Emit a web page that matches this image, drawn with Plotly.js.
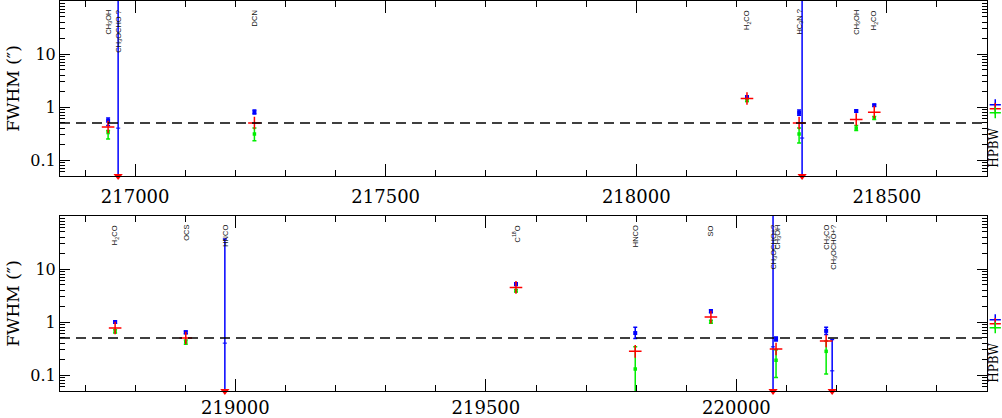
<!DOCTYPE html>
<html>
<head>
<meta charset="utf-8">
<script src="https://cdn.plot.ly/plotly-3.0.1.min.js"></script>
<style>html,body{margin:0;padding:0;background:#fff;}#chart{width:1002px;height:418px;}</style>
</head>
<body>
<div id="chart"></div>
<script>
// ---------- Top panel data ----------
const topFreq    = [216946, 217238, 218221, 218325, 218439, 218475];
const topBlue    = [0.55, 0.80, 1.54, 0.78, 0.84, 1.08];
const topBlueLo  = [0.45, 0.74, 1.46, 0.70, 0.80, 1.03];
const topBlueHi  = [0.62, 0.88, 1.62, 0.88, 0.88, 1.13];
const topRed     = [0.42, 0.50, 1.45, 0.50, 0.58, 0.80];
const topGreen   = [0.33, 0.31, 1.33, 0.31, 0.40, 0.62];
const topGreenLo = [0.25, 0.23, 1.27, 0.21, 0.36, 0.58];
const topGreenHi = [0.36, 0.40, 1.40, 0.40, 0.45, 0.66];
const topLimFreq   = [216966, 218331];
const topLimBlue   = [0.40, 0.26];
const topLimBlueLo = [0.001, 0.001];
const topLimBlueHi = [1000, 1000];
const topLimRed    = [0.05, 0.05];
const topLabelFreq = [216946, 216966, 217238, 218221, 218325, 218439, 218475];
const topLabels = ['CH<sub>3</sub>OH', 'CH<sub>3</sub>OCHO ?', 'DCN', 'H<sub>2</sub>CO',
                   'HC<sub>3</sub>N ?', 'CH<sub>3</sub>OH', 'H<sub>2</sub>CO'];

// ---------- Bottom panel data ----------
const botFreq    = [218760, 218901, 219560, 219798, 219949, 220079, 220179];
const botBlue    = [1.00, 0.64, 5.2, 0.62, 1.60, 0.48, 0.68];
const botBlueLo  = [0.95, 0.60, 4.9, 0.49, 1.50, 0.44, 0.58];
const botBlueHi  = [1.05, 0.68, 5.5, 0.80, 1.70, 0.52, 0.80];
const botRed     = [0.77, 0.50, 4.5, 0.28, 1.24, 0.31, 0.44];
const botGreen   = [0.66, 0.42, 3.9, 0.13, 1.00, 0.19, 0.28];
const botGreenLo = [0.62, 0.38, 3.7, 0.04, 0.95, 0.09, 0.105];
const botGreenHi = [0.72, 0.46, 4.1, 0.34, 1.08, 0.30, 0.44];
const botLimFreq   = [218979, 220073, 220191];
const botLimBlue   = [0.40, 0.34, 0.12];
const botLimBlueLo = [0.001, 0.001, 0.001];
const botLimBlueHi = [37, 1000, 0.47];
const botLimRed    = [0.05, 0.05, 0.05];
const botLabelFreq = [218760, 218901, 218979, 219560, 219798, 219949, 220073, 220081, 220179, 220193];
const botLabels = ['H<sub>2</sub>CO', 'OCS', 'HNCO', 'C<sup>18</sup>O', 'HNCO', 'SO',
                   'CH<sub>3</sub>OCHO+?', 'CH<sub>3</sub>OH', 'CH<sub>2</sub>CO', 'CH<sub>3</sub>OCHO+?'];

// ---------- HPBW ----------
const hpbwBlue = 1.10, hpbwRed = 0.93, hpbwGreen = 0.78;
const fwhmThreshold = 0.5;

const xRangeTop = [216850, 218700];
const xRangeBot = [218650, 220500];
const yRange = [Math.log10(0.05), 2];

const BLUE = '#0000ff', RED = '#ff0000', GREEN = '#00ee00';
const SERIF = 'DejaVu Serif, Liberation Serif, serif';

function diff(a, b) { return a.map((v, i) => v - b[i]); }

function panelTraces(xa, ya, xh, freq, blue, bLo, bHi, red, green, gLo, gHi,
                     limF, limB, limLo, limHi, limR) {
  const tr = [];
  tr.push({x: limF, y: limB, xaxis: xa, yaxis: ya, type: 'scatter', mode: 'markers',
    marker: {color: BLUE, size: 3, symbol: 'line-ew', line: {color: BLUE, width: 1}},
    error_y: {type: 'data', symmetric: false, array: diff(limHi, limB), arrayminus: diff(limB, limLo),
              color: BLUE, thickness: 1.5, width: 2}, hoverinfo: 'skip'});
  tr.push({x: freq, y: blue, xaxis: xa, yaxis: ya, type: 'scatter', mode: 'markers',
    marker: {color: BLUE, size: 4, symbol: 'square'},
    error_y: {type: 'data', symmetric: false, array: diff(bHi, blue), arrayminus: diff(blue, bLo),
              color: BLUE, thickness: 1.5, width: 2}, hoverinfo: 'skip'});
  tr.push({x: freq, y: green, xaxis: xa, yaxis: ya, type: 'scatter', mode: 'markers',
    marker: {color: GREEN, size: 3.5, symbol: 'square'},
    error_y: {type: 'data', symmetric: false, array: diff(gHi, green), arrayminus: diff(green, gLo),
              color: GREEN, thickness: 1.5, width: 2}, hoverinfo: 'skip'});
  tr.push({x: freq, y: red, xaxis: xa, yaxis: ya, type: 'scatter', mode: 'markers',
    marker: {color: RED, size: 9, symbol: 'cross-thin', line: {color: RED, width: 1.5}}, hoverinfo: 'skip'});
  tr.push({x: limF, y: limR, xaxis: xa, yaxis: ya, type: 'scatter', mode: 'markers', cliponaxis: false,
    marker: {color: RED, size: 8, symbol: 'triangle-down'}, hoverinfo: 'skip'});
  // HPBW crosses on a narrow side axis
  [[hpbwBlue, BLUE], [hpbwRed, RED], [hpbwGreen, GREEN]].forEach(([v, c]) => {
    tr.push({x: [0.55], y: [v], xaxis: xh, yaxis: ya, type: 'scatter', mode: 'markers', cliponaxis: false,
      marker: {color: c, size: 8, symbol: 'cross-thin', line: {color: c, width: 1.5}}, hoverinfo: 'skip'});
  });
  return tr;
}

const data = [].concat(
  panelTraces('x', 'y', 'x3', topFreq, topBlue, topBlueLo, topBlueHi, topRed, topGreen, topGreenLo, topGreenHi,
              topLimFreq, topLimBlue, topLimBlueLo, topLimBlueHi, topLimRed),
  panelTraces('x2', 'y2', 'x4', botFreq, botBlue, botBlueLo, botBlueHi, botRed, botGreen, botGreenLo, botGreenHi,
              botLimFreq, botLimBlue, botLimBlueLo, botLimBlueHi, botLimRed)
);

const minorVals = [];
[0.01, 0.1, 1, 10].forEach(d => { for (let k = 2; k <= 9; k++) minorVals.push(+(k * d).toPrecision(3)); });

const mainDomain = [0, 927 / 942];
const sideDomain = [927 / 942, 1];

function xAxis(range, anchor, standoff) {
  return {range: range, anchor: anchor, domain: mainDomain, showgrid: false, zeroline: false,
    showline: true, linecolor: '#000', linewidth: 1, mirror: 'ticks',
    ticks: 'inside', ticklen: 12, tickwidth: 1, tickcolor: '#000',
    tickmode: 'linear', tick0: 0, dtick: 500, tickformat: 'd',
    minor: {ticks: 'inside', ticklen: 6, tickcolor: '#000', tickwidth: 1, dtick: 100, tick0: 0},
    tickfont: {family: SERIF, size: 18, color: '#000'}, ticklabelstandoff: standoff};
}
function sideAxis(anchor) {
  return {range: [0, 1], anchor: anchor, domain: sideDomain, visible: false, fixedrange: true};
}
function yAxis(anchor, domain) {
  return {type: 'log', range: yRange, domain: domain, anchor: anchor, showgrid: false, zeroline: false,
    showline: true, linecolor: '#000', linewidth: 1, mirror: 'ticks',
    ticks: 'inside', ticklen: 10, tickwidth: 1, tickcolor: '#000',
    tickmode: 'array', tickvals: [0.1, 1, 10], ticktext: ['0.1', '1', '10'],
    minor: {ticks: 'inside', ticklen: 5, tickcolor: '#000', tickwidth: 1, tickmode: 'array', tickvals: minorVals},
    tickfont: {family: SERIF, size: 16, color: '#000'},
    title: {text: 'FWHM (\u2033)', font: {family: SERIF, size: 17, color: '#000'}, standoff: 6}};
}

const annotations = [];
function addLabels(freqs, labels, xref, yref) {
  freqs.forEach((f, i) => {
    annotations.push({x: f, y: 1, xref: xref, yref: yref + ' domain', text: labels[i], showarrow: false,
      textangle: -90, xanchor: 'center', yanchor: 'top', yshift: -7,
      font: {family: 'Liberation Sans, Arial, sans-serif', size: 7.5, color: '#111'}});
  });
}
addLabels(topLabelFreq, topLabels, 'x', 'y');
addLabels(botLabelFreq, botLabels, 'x2', 'y2');
[['x3', 'y'], ['x4', 'y2']].forEach(([xr, yr]) => {
  annotations.push({x: 0.45, y: 0, xref: xr, yref: yr + ' domain', text: 'HPBW', showarrow: false,
    textangle: -90, xanchor: 'center', yanchor: 'bottom', yshift: 6,
    font: {family: SERIF, size: 12, color: '#000'}});
});

const shapes = [
  {type: 'line', xref: 'x domain', yref: 'y', x0: 0, x1: 1, y0: fwhmThreshold, y1: fwhmThreshold,
   line: {color: '#000', width: 1.3, dash: '10px,6px'}},
  {type: 'line', xref: 'x2 domain', yref: 'y2', x0: 0, x1: 1, y0: fwhmThreshold, y1: fwhmThreshold,
   line: {color: '#000', width: 1.3, dash: '10px,6px'}}
];

const layout = {
  width: 1002, height: 418,
  margin: {l: 60, r: 0, t: 1, b: 27},
  paper_bgcolor: '#fff', plot_bgcolor: '#fff',
  showlegend: false,
  xaxis: xAxis(xRangeTop, 'y', 4),
  yaxis: yAxis('x', [0.5513, 1]),
  xaxis2: xAxis(xRangeBot, 'y2', 0),
  yaxis2: yAxis('x2', [0, 0.4487]),
  xaxis3: sideAxis('y'),
  xaxis4: sideAxis('y2'),
  annotations: annotations,
  shapes: shapes
};

Plotly.newPlot('chart', data, layout, {staticPlot: true, displayModeBar: false});
</script>
</body>
</html>
